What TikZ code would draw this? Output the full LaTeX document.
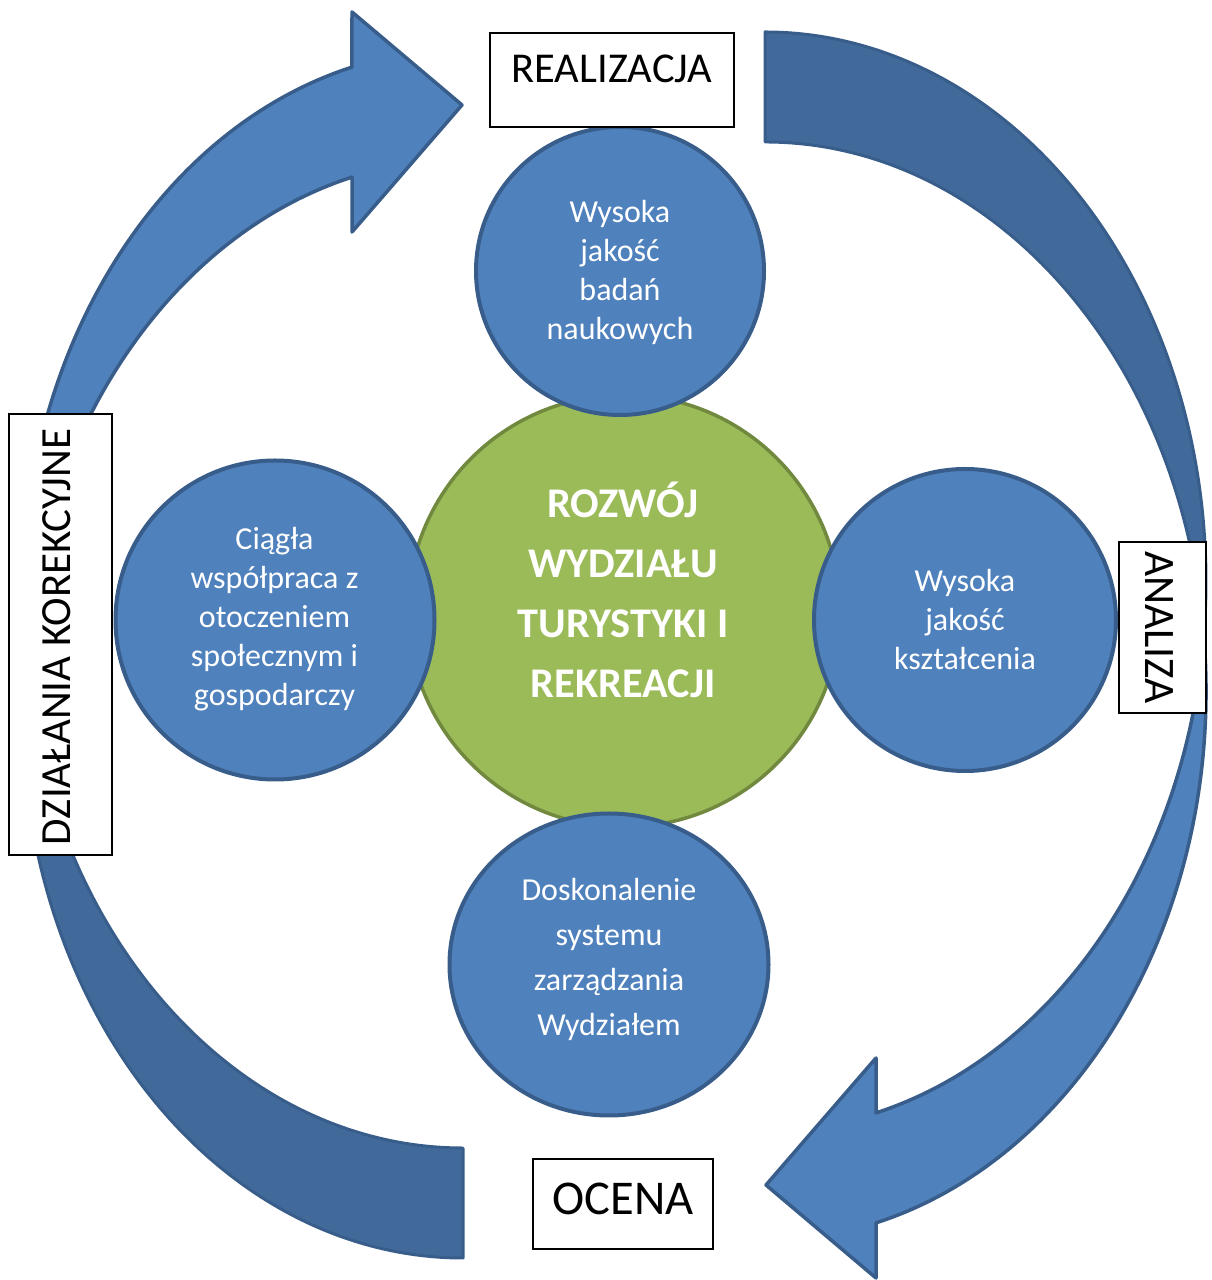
\documentclass[tikz,border=0pt]{standalone}
\usepackage{fontspec}
\setmainfont{Carlito}
\usetikzlibrary{shapes.geometric}

\definecolor{ablue}{HTML}{4F81BD}
\definecolor{ablueline}{HTML}{385D8A}
\definecolor{abluedark}{HTML}{416A9B}
\definecolor{agreen}{HTML}{9BBB59}
\definecolor{agreenline}{HTML}{71893F}

\tikzset{
  arrowface/.style={fill=ablue, draw=ablueline, line width=3.5pt, line join=round},
  arrowback/.style={fill=abluedark, draw=ablueline, line width=3pt, line join=round},
  goalcircle/.style={circle, fill=ablue, draw=ablueline, line width=4pt, inner sep=0pt},
  goalellipse/.style={ellipse, fill=ablue, draw=ablueline, line width=4pt, inner sep=0pt},
  coregoal/.style={circle, fill=agreen, draw=agreenline, line width=3.5pt, inner sep=0pt},
  goaltext/.style={anchor=base, text=white, inner sep=0pt, font=\fontsize{32}{39}\selectfont},
  stagebox/.style={rectangle, draw=black, line width=1.2pt, fill=white, inner sep=0pt},
  stagetext/.style={anchor=base, inner sep=0pt, font=\fontsize{42.5}{50}\selectfont},
  ell/.style={x radius=441pt, y radius=549.3pt},
}

% One curved cycle arrow: a darker back band (upper part) and the
% front band that ends in the arrow head pointing left.
\newcommand\cyclearrowshape{%
  \path[arrowback] (765,1248)
      arc[ell, start angle=90, end angle=-5.747]
      arc[ell, start angle=5.747, end angle=90] -- cycle;
  \path[arrowface] (1203.8,643.7)
      arc[ell, start angle=5.747, end angle=-75.42]
      -- (876,2) -- (766,95) -- (876,222) -- (876,167.1)
      arc[ell, start angle=-75.42, end angle=-5.747] -- cycle;
}

\newcommand\linesof[1]{\begin{tabular}[t]{@{}c@{}}#1\end{tabular}}

\begin{document}
\begin{tikzpicture}[x=1pt,y=1pt]
\useasboundingbox (0,0) rectangle (1212,1280);

% the two cycle arrows
\cyclearrowshape
\begin{scope}[rotate around={180:(614,635)}]
  \cyclearrowshape
\end{scope}

% central goal
\node[coregoal, minimum size=432pt] (core) at (624,669) {};

% four supporting goals
\node[goalcircle, minimum size=288pt] (research) at (620,1009) {};
\node[goalcircle, minimum size=319pt] (society) at (275,660) {};
\node[goalcircle, minimum size=302pt] (teaching) at (965,660) {};
\node[goalellipse, minimum width=319pt, minimum height=302pt] (management) at (609,315.5) {};

% texts of the goals
\node[anchor=base, text=white, inner sep=0pt, font=\bfseries\fontsize{42.3}{60}\selectfont]
  (coretext) at (623,762) {\linesof{ROZWÓJ\\WYDZIAŁU\\TURYSTYKI I\\REKREACJI}};
\node[goaltext] (researchtext) at (620,1057) {\linesof{Wysoka\\jakość\\badań\\naukowych}};
\node[goaltext] (societytext) at (274.5,730) {\linesof{Ciągła\\współpraca z\\otoczeniem\\społecznym i\\gospodarczy}};
\node[goaltext] (teachingtext) at (965,688) {\linesof{Wysoka\\jakość\\kształcenia}};
\node[goaltext, font=\fontsize{32}{45}\selectfont] (managementtext) at (609,379.3)
  {\linesof{Doskonalenie\\systemu\\zarządzania\\Wydziałem}};

% stage labels
\node[stagebox, minimum width=244pt, minimum height=94pt] (realbox) at (612,1200) {};
\node[stagetext] (realtext) at (612,1197) {REALIZACJA};

\node[stagebox, minimum width=87pt, minimum height=171pt] (anbox) at (1162.5,652.5) {};
\node[stagetext, font=\fontsize{43.5}{52}\selectfont, rotate=-90] (antext) at (1145,652.5) {ANALIZA};

\node[stagebox, minimum width=180pt, minimum height=90pt] (ocbox) at (623,76) {};
\node[stagetext, font=\fontsize{48.5}{58}\selectfont] (octext) at (623,65) {OCENA};

\node[stagebox, minimum width=103pt, minimum height=441pt] (korbox) at (60.5,645.5) {};
\node[stagetext, font=\fontsize{43}{52}\selectfont, rotate=90] (kortext) at (70,643) {DZIAŁANIA KOREKCYJNE};
\end{tikzpicture}
\end{document}
